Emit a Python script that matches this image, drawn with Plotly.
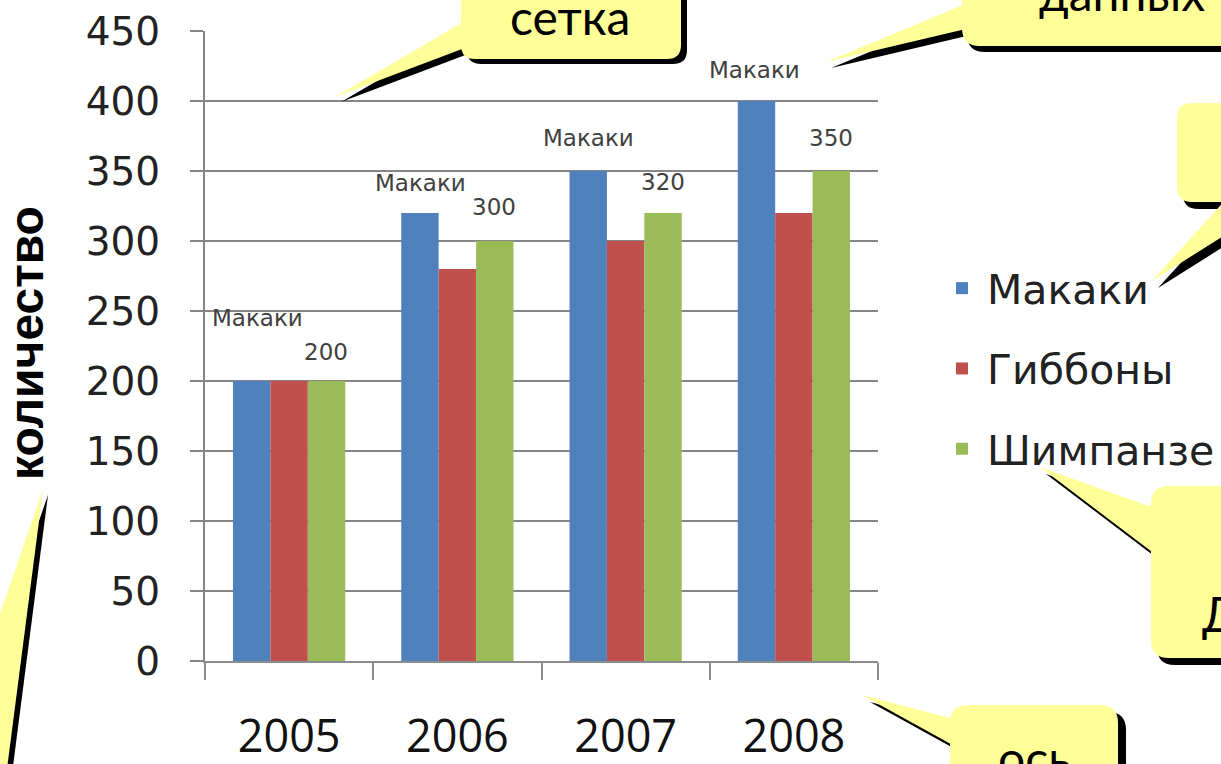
import plotly.graph_objects as go

# ---------------- data ----------------
years = ["2005", "2006", "2007", "2008"]
series_names = ["Макаки", "Гиббоны", "Шимпанзе"]
makaki = [200, 320, 350, 400]
gibbony = [200, 280, 300, 320]
shimpanze = [200, 300, 320, 350]
y_tick_values = [0, 50, 100, 150, 200, 250, 300, 350, 400, 450]
y_title = "количество"
callout_grid = "сетка"
callout_labels = "данных"
callout_series = "Данные"
callout_axis = "ось"

# ---------------- layout geometry (pixels) ----------------
W, H = 1221, 764
ML, MR, MT, MB = 205, 343, 31, 103
PW, PH = W - ML - MR, H - MT - MB

def X(px):
    return (px - ML) / PW

def Y(py):
    return 1 - (py - MT) / PH

def P(a, b):
    return f"{X(a):.5f},{Y(b):.5f}"

def rrect(x0, y0, x1, y1, r):
    return (f"M{P(x0 + r, y0)} L{P(x1 - r, y0)} Q{P(x1, y0)} {P(x1, y0 + r)} "
            f"L{P(x1, y1 - r)} Q{P(x1, y1)} {P(x1 - r, y1)} "
            f"L{P(x0 + r, y1)} Q{P(x0, y1)} {P(x0, y1 - r)} "
            f"L{P(x0, y0 + r)} Q{P(x0, y0)} {P(x0 + r, y0)} Z")

def tri(pts):
    s = f"M{P(*pts[0])}"
    for p in pts[1:]:
        s += f" L{P(*p)}"
    return s + " Z"

YELLOW = "#FFFF99"
SHADOW = "#000000"

def callout(box, wedge, r=16, dx=6, dy=6):
    out = []
    if box:
        x0, y0, x1, y1 = box
        out.append((rrect(x0 + dx, y0 + dy, x1 + dx, y1 + dy, r), SHADOW))
    out.append((tri([(a + dx, b + dy) for a, b in wedge]), SHADOW))
    out.append((tri(wedge), YELLOW))
    if box:
        out.append((rrect(*box, r), YELLOW))
    return out

shape_paths = []
shape_paths += callout((461, -40, 681, 59), [(470, 18), (470, 46), (335, 97)], r=14, dx=6, dy=5)
shape_paths += callout((962, -40, 1260, 46), [(970, 2), (970, 28), (826, 62)], r=18, dx=5, dy=6)
shape_paths += callout((1177, 103, 1270, 202), [(1229, 196), (1287, 196), (1152, 281)], r=15, dx=6, dy=7)
shape_paths += callout((1151, 486, 1270, 658), [(1160, 510), (1160, 558), (1040, 467)], r=18, dx=6, dy=7)
shape_paths += callout((950, 705, 1118, 820), [(958, 720), (958, 748), (862, 695)], r=18, dx=8, dy=7)
shape_paths += callout(None, [(43, 490), (3, 800), (-65, 800)], dx=5, dy=5)

shapes = [dict(type="path", path=d, xref="paper", yref="paper", fillcolor=c,
               line=dict(width=0), layer="above") for d, c in shape_paths]

# ---------------- figure ----------------
colors = ["#4F81BD", "#C0504D", "#9BBB59"]
fig = go.Figure()
for i, (name, vals) in enumerate(zip(series_names, [makaki, gibbony, shimpanze])):
    fig.add_trace(go.Bar(x=years, y=vals, name=name, marker=dict(color=colors[i], line=dict(width=0)),
                         legendgroup=f"g{i}", hoverinfo="x+y+name"))

annotations = []
# data labels: series name above the first series, value above the last series
name_lift = [63, 30, 33, 31]
name_nudge = [5, 0, 0, -2]
value_lift = [29, 34, 31, 33]
lab_font = dict(family="DejaVu Sans", size=23, color="#404040")
for i, yr in enumerate(years):
    annotations.append(dict(x=i, y=makaki[i], xref="x", yref="y", text=series_names[0],
                            showarrow=False, xshift=-37 + name_nudge[i], yshift=name_lift[i],
                            yanchor="middle", font=lab_font))
    annotations.append(dict(x=i, y=shimpanze[i], xref="x", yref="y", text=str(shimpanze[i]),
                            showarrow=False, xshift=37, yshift=value_lift[i],
                            yanchor="middle", font=lab_font))

# y axis title
annotations.append(dict(x=X(26), y=Y(343), xref="paper", yref="paper", text=f"<b>{y_title}</b>",
                        textangle=-90, showarrow=False, xanchor="center", yanchor="middle",
                        font=dict(family="Liberation Sans", size=48, color="#000000")))

# callout texts
cfont = dict(family="Lato", size=48, color="#000000")
annotations.append(dict(x=X(570), y=Y(16), xref="paper", yref="paper", text=callout_grid,
                        showarrow=False, xanchor="center", yanchor="middle", font=cfont))
annotations.append(dict(x=X(1122), y=Y(-8), xref="paper", yref="paper", text=callout_labels,
                        showarrow=False, xanchor="center", yanchor="middle", font=cfont))
annotations.append(dict(x=X(1200), y=Y(613), xref="paper", yref="paper", text=callout_series,
                        showarrow=False, xanchor="left", yanchor="middle", font=cfont))
annotations.append(dict(x=X(1034), y=Y(758), xref="paper", yref="paper", text=callout_axis,
                        showarrow=False, xanchor="center", yanchor="middle", font=cfont))

fig.update_layout(
    template="none",
    width=W, height=H,
    margin=dict(l=ML, r=MR, t=MT, b=MB, autoexpand=False, pad=0),
    paper_bgcolor="white", plot_bgcolor="white",
    barmode="group", bargap=0.333, bargroupgap=0,
    showlegend=True,
    legend=dict(x=X(937), y=Y(255), xanchor="left", yanchor="top", xref="paper", yref="paper",
                font=dict(family="DejaVu Sans", size=41, color="#222222"),
                traceorder="grouped", tracegroupgap=24, bgcolor="rgba(0,0,0,0)",
                itemwidth=40),
    xaxis=dict(type="category", range=[-0.5, 3.5], showgrid=False, zeroline=False,
               showline=True, linecolor="#8C8C8C", linewidth=2,
               ticks="outside", tickson="boundaries", ticklen=17, tickwidth=2, tickcolor="#8C8C8C",
               tickfont=dict(family="Open Sans", size=45, color="#111111"),
               ticklabelstandoff=35, automargin=False),
    yaxis=dict(range=[0, 450], tickvals=y_tick_values, showgrid=True, gridcolor="#868686", gridwidth=1.5,
               zeroline=False, showline=True, linecolor="#868686", linewidth=2,
               ticks="outside", ticklen=13, tickwidth=2, tickcolor="#868686",
               tickfont=dict(family="DejaVu Sans", size=39, color="#222222"),
               ticklabelstandoff=22, automargin=False),
    shapes=shapes,
    annotations=annotations,
)

fig.write_html("out.html", config={"displayModeBar": False},
               post_script="document.body.style.margin='0';document.body.style.overflow='hidden';")
